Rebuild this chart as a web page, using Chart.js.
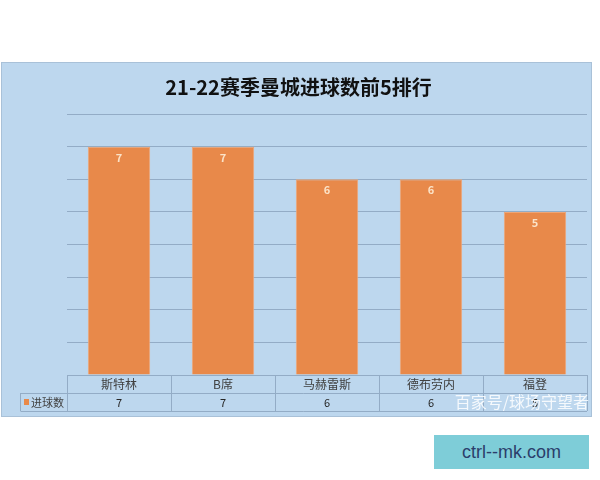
<!DOCTYPE html>
<html>
<head>
<meta charset="utf-8">
<script src="https://cdn.jsdelivr.net/npm/chart.js@4.4.1/dist/chart.umd.min.js"></script>
<style>
  body { margin: 0; background: #fff; overflow: hidden; }
  #wrap { position: relative; width: 600px; height: 480px; }
  #site {
    position: absolute; left: 434px; top: 435px; width: 155px; height: 34px;
    background: #7ECDD8; color: #2B3E6B; font: 18px "Liberation Sans", Arial, sans-serif;
    line-height: 34px; text-align: center;
  }
</style>
</head>
<body>
<div id="wrap">
  <canvas id="chart" width="600" height="480"></canvas>
  <div id="site">ctrl--mk.com</div>
</div>
<script>
// chart data
const players = ['斯特林', 'B席', '马赫雷斯', '德布劳内', '福登'];
const goals = [7, 7, 6, 6, 5];
const seriesName = '进球数';
const chartTitle = '21-22赛季曼城进球数前5排行';
const watermark = '百家号/球场守望者';

const CJK = '"Noto Sans CJK SC", "Noto Sans", sans-serif';
const BAR = '#E8894A';
const LINE = '#93ACC6';

// blue panel behind everything
const panelPlugin = {
  id: 'panel',
  beforeDraw(chart) {
    const ctx = chart.ctx;
    ctx.save();
    ctx.fillStyle = '#BDD7EE';
    ctx.fillRect(1, 62, 591, 355);
    ctx.strokeStyle = '#A9C1D8';
    ctx.lineWidth = 1;
    ctx.strokeRect(1.5, 62.5, 590, 354);
    ctx.restore();
  }
};

// value labels just inside the top of each bar
const labelPlugin = {
  id: 'barLabels',
  afterDatasetsDraw(chart) {
    const ctx = chart.ctx;
    const meta = chart.getDatasetMeta(0);
    ctx.save();
    ctx.fillStyle = '#FBE3C8';
    ctx.font = 'bold 11px ' + CJK;
    ctx.textAlign = 'center';
    ctx.textBaseline = 'middle';
    meta.data.forEach((bar, i) => {
      ctx.fillText(String(goals[i]), bar.x, bar.y + 11);
    });
    ctx.restore();
  }
};

// data table under the plot, plus watermark
const tablePlugin = {
  id: 'dataTable',
  afterDraw(chart) {
    const ctx = chart.ctx;
    const x = chart.scales.x;
    const area = chart.chartArea;
    const colW = (x.right - x.left) / players.length;
    const top = area.bottom;
    const rowH = 18;
    const legendLeft = 20.5;

    ctx.save();
    ctx.strokeStyle = LINE;
    ctx.lineWidth = 1;
    ctx.beginPath();
    // horizontal lines
    ctx.moveTo(x.left, top + 0.5); ctx.lineTo(x.right, top + 0.5);
    ctx.moveTo(legendLeft, top + rowH + 0.5); ctx.lineTo(x.right, top + rowH + 0.5);
    ctx.moveTo(legendLeft, top + rowH * 2 + 0.5); ctx.lineTo(x.right, top + rowH * 2 + 0.5);
    // vertical lines
    ctx.moveTo(legendLeft, top + rowH); ctx.lineTo(legendLeft, top + rowH * 2);
    for (let i = 0; i <= players.length; i++) {
      const px = Math.round(x.left + i * colW) + 0.5;
      ctx.moveTo(px, top); ctx.lineTo(px, top + rowH * 2);
    }
    ctx.stroke();

    ctx.textAlign = 'center';
    ctx.textBaseline = 'middle';
    players.forEach((name, i) => {
      const cx = x.getPixelForValue(i);
      ctx.fillStyle = '#404040';
      ctx.font = '12px ' + CJK;
      ctx.fillText(name, cx, top + rowH / 2 + 0.5);
      ctx.fillStyle = '#262626';
      ctx.font = '11px ' + CJK;
      ctx.fillText(String(goals[i]), cx, top + rowH * 1.5 + 0.5);
    });

    // legend key
    ctx.fillStyle = BAR;
    ctx.fillRect(24, top + rowH + 6, 5, 6);
    ctx.fillStyle = '#404040';
    ctx.font = '11px ' + CJK;
    ctx.textAlign = 'left';
    ctx.fillText(seriesName, 31, top + rowH * 1.5 + 0.5);

    // watermark
    ctx.fillStyle = 'rgba(255,255,255,0.85)';
    ctx.font = '16px ' + CJK;
    ctx.textAlign = 'right';
    ctx.fillText(watermark, 589, top + rowH * 1.5);
    ctx.restore();
  }
};

new Chart(document.getElementById('chart'), {
  type: 'bar',
  data: {
    labels: players,
    datasets: [{
      label: seriesName,
      data: goals,
      backgroundColor: BAR,
      borderColor: '#EFA676',
      borderWidth: 1,
      categoryPercentage: 1,
      barPercentage: 0.6
    }]
  },
  options: {
    responsive: false,
    animation: false,
    devicePixelRatio: 1,
    layout: { padding: { left: 10, right: 13, top: 62, bottom: 105 } },
    plugins: {
      legend: { display: false },
      tooltip: { enabled: false },
      title: {
        display: true,
        text: chartTitle,
        color: '#111',
        font: { family: CJK, size: 20, weight: 'bold' },
        padding: { top: 13, bottom: 15 }
      }
    },
    scales: {
      x: {
        ticks: { display: false },
        grid: { display: false, drawTicks: false },
        border: { display: false }
      },
      y: {
        min: 0,
        max: 8,
        ticks: { display: false, stepSize: 1 },
        grid: { color: LINE, drawTicks: false },
        border: { display: false },
        afterFit(scale) { scale.width = 57; }
      }
    }
  },
  plugins: [panelPlugin, labelPlugin, tablePlugin]
});
</script>
</body>
</html>
